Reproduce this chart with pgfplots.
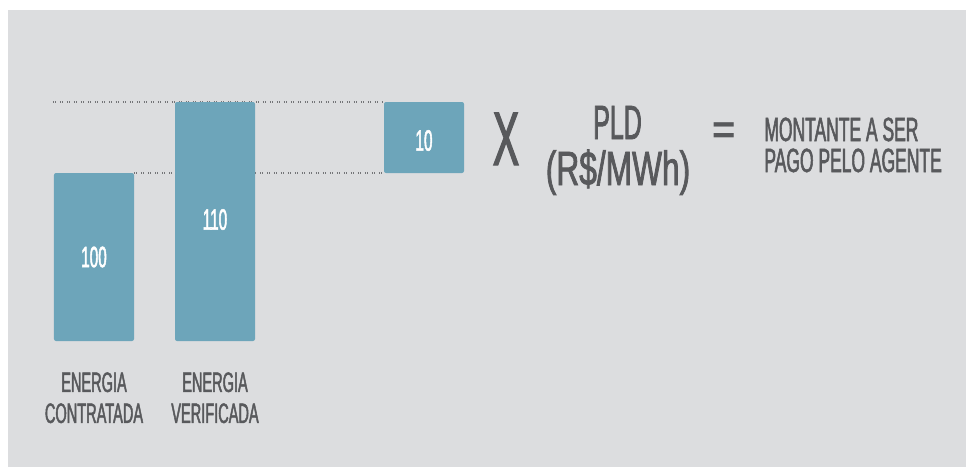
\documentclass[border=0pt]{standalone}
\usepackage{fontspec}
\usepackage{pgfplots}
\pgfplotsset{compat=1.18}
\usetikzlibrary{calc}
\setmainfont{Liberation Sans}
\newfontfamily\narrowfont[FakeStretch=0.52, FakeBold=1.6]{Liberation Sans}
\newfontfamily\unitfont[FakeStretch=0.66, FakeBold=1.6]{Liberation Sans}
\definecolor{panel}{HTML}{DCDDDF}
\definecolor{barblue}{HTML}{6DA5BA}
\definecolor{ink}{HTML}{58595C}
\definecolor{dotgray}{HTML}{747578}

\begin{document}
\begin{tikzpicture}
\useasboundingbox (0,0) rectangle (483pt,-233.5pt);
% grey panel behind the whole figure
\fill[panel] (4pt,-5pt) rectangle (483pt,-233.5pt);
\begin{axis}[
  at={(4pt,-233.5pt)}, anchor=south west,
  scale only axis, width=479pt, height=228.5pt,
  xmin=8, xmax=966, ymin=-75, ymax=122.96,
  % the step from 100 to 110 is drawn magnified
  y coord trafo/.code={\pgfmathparse{ifthenelse(#1<=100,#1,100+(#1-100)*4.226)}},
  y coord inv trafo/.code={\pgfmathparse{ifthenelse(#1<=100,#1,100+(#1-100)/4.226)}},
  axis line style={draw=none},
  major tick length=0pt,
  ytick=\empty,
  xtick={94,215},
  xticklabels={ENERGIA\\CONTRATADA, ENERGIA\\VERIFICADA},
  xticklabel style={align=center, font=\narrowfont\fontsize{14}{15.5}\selectfont,
    text=ink, inner sep=0pt, yshift=47.5pt},
  clip=false,
]
% dotted guide lines at the two energy levels
\addplot[draw=dotgray, line width=0.7pt, dash pattern=on 0.5pt off 0.6pt on 0.5pt off 1.9pt]
  coordinates {(53,110) (384,110)};
\addplot[draw=dotgray, line width=0.7pt, dash pattern=on 0.5pt off 0.6pt on 0.5pt off 1.9pt]
  coordinates {(134,100) (384,100)};
% contracted and verified energy
\addplot[ybar, bar width=80, bar shift=0pt, fill=barblue, draw=none, rounded corners=1pt]
  coordinates {(94,100) (215,110)};
% difference: 110 - 100
\addplot[fill=barblue, draw=none, rounded corners=1pt]
  coordinates {(384,100) (464,100) (464,110) (384,110)} -- cycle;

\node[font=\narrowfont\fontsize{14.7}{15}\selectfont, text=white]
  at ($(axis cs:94,0)!0.5!(axis cs:94,100)$) {100};
\node[font=\narrowfont\fontsize{14.7}{15}\selectfont, text=white, yshift=1pt]
  at ($(axis cs:215,0)!0.5!(axis cs:215,110)$) {110};
\node[font=\narrowfont\fontsize{14.7}{15}\selectfont, text=white, yshift=-1.5pt]
  at ($(axis cs:424,100)!0.5!(axis cs:424,110)$) {10};
\end{axis}

\begin{scope}[x=0.5pt, y=-0.5pt, text=ink]
\node[anchor=base, inner sep=0pt, font=\narrowfont\fontsize{38}{38}\selectfont] at (506,165) {X};
\node[anchor=base, inner sep=0pt, font=\narrowfont\fontsize{24}{24}\selectfont] at (617.5,139) {PLD};
\node[anchor=base, inner sep=0pt, font=\unitfont\fontsize{24}{24}\selectfont] at (618,185) {(R\$/MWh)};
\node[anchor=center, inner sep=0pt, font=\bfseries\fontsize{20}{20}\selectfont] at (724,133) {=};
\node[anchor=base west, inner sep=0pt, font=\narrowfont\fontsize{16.8}{16.8}\selectfont] at (764,141) {MONTANTE A SER};
\node[anchor=base west, inner sep=0pt, font=\narrowfont\fontsize{16.8}{16.8}\selectfont] at (764,172) {PAGO PELO AGENTE};
\end{scope}
\end{tikzpicture}
\end{document}
